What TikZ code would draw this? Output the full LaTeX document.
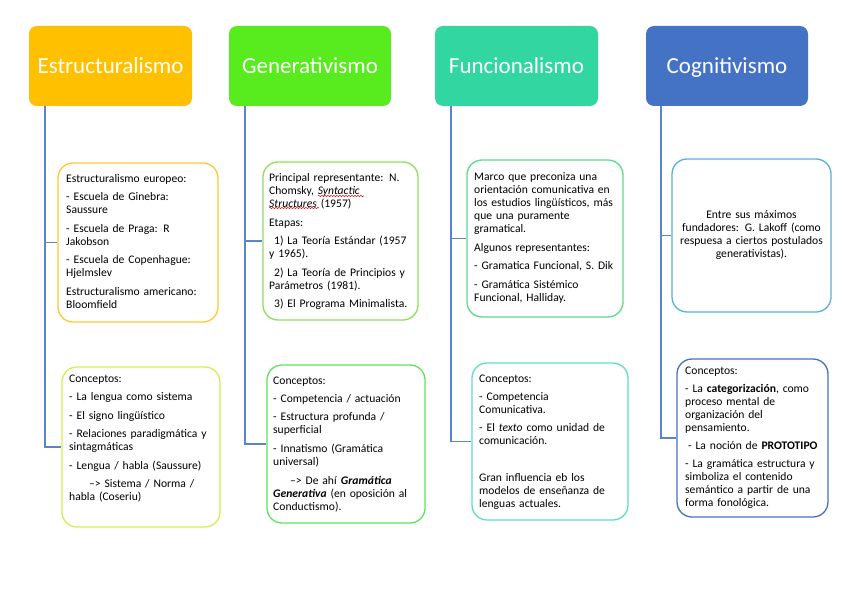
\documentclass[tikz,border=0pt]{standalone}
\usepackage{fontspec}
\setmainfont{Carlito}
\usetikzlibrary{calc,decorations.pathmorphing}
\definecolor{cEst}{HTML}{FFC000}
\definecolor{cGen}{HTML}{58EB1E}
\definecolor{cFun}{HTML}{31D6A1}
\definecolor{cCog}{HTML}{4472C4}
\definecolor{cLine}{HTML}{5B84D0}
\definecolor{bEstA}{HTML}{FFC832}
\definecolor{bEstB}{HTML}{D8EE4C}
\definecolor{bGenA}{HTML}{8EE05A}
\definecolor{bGenB}{HTML}{60E360}
\definecolor{bFunA}{HTML}{5ADC8A}
\definecolor{bFunB}{HTML}{5EDFC2}
\definecolor{bCogA}{HTML}{55B2E0}
\definecolor{bCogB}{HTML}{4472C4}
\begin{document}
\begin{tikzpicture}[x=1pt,y=-1pt,
  head/.style={rectangle, rounded corners=8pt, draw=white!70!black, draw opacity=0.2, minimum width=163pt, minimum height=80pt, text=white, font=\fontsize{23}{26}\selectfont, inner sep=0pt, text height=18pt, text depth=3pt},
  box/.style={rectangle, rounded corners=15pt, line width=1.3pt, fill=white},
  conn/.style={draw=cLine, line width=1.4pt},
  wave/.style={draw=red!85!black, line width=0.5pt, decorate, decoration={snake, amplitude=0.6pt, segment length=3pt}},
  txt/.style={anchor=base west, text width=175pt, align=left, inner sep=0pt, font=\fontsize{11.6}{13}\selectfont},
  ctxt/.style={anchor=base, text width=159pt, align=center, inner sep=0pt, font=\fontsize{11.6}{13}\selectfont}
]
\useasboundingbox (0,0) rectangle (848,599);

% headers
\node[head, fill=cEst] (h1) at (110.5,66) {Estructuralismo};
\node[head, fill=cGen, minimum width=162pt] (h2) at (310,66) {Generativismo};
\node[head, fill=cFun] (h3) at (516.5,66) {Funcionalismo};
\node[head, fill=cCog, minimum width=162pt] (h4) at (727,66) {Cognitivismo};

% boxes
\node[box, draw=bEstA, minimum width=160pt, minimum height=159pt] (b11) at (138,242.5) {};
\node[box, draw=bEstB, minimum width=158pt, minimum height=160pt] (b12) at (141,447) {};
\node[box, draw=bGenA, minimum width=155pt, minimum height=158pt] (b21) at (340.5,241) {};
\node[box, draw=bGenB, minimum width=158pt, minimum height=158pt] (b22) at (346,444) {};
\node[box, draw=bFunA, minimum width=156pt, minimum height=157pt] (b31) at (545,238.5) {};
\node[box, draw=bFunB, minimum width=156pt, minimum height=157pt] (b32) at (550,441.5) {};
\node[box, draw=bCogA, minimum width=159pt, minimum height=153pt] (b41) at (751.5,235.5) {};
\node[box, draw=bCogB, minimum width=151pt, minimum height=158pt] (b42) at (752.5,438) {};

% connectors
\coordinate (v1) at ($(h1.south west)+(16,0)$);
\coordinate (v2) at ($(h2.south west)+(16,0)$);
\coordinate (v3) at ($(h3.south west)+(16,0)$);
\coordinate (v4) at ($(h4.south west)+(15,0)$);
\draw[conn] (v1) |- (b11.west);
\draw[conn] (v1) |- (b12.west);
\draw[conn] (v2) |- (b21.west);
\draw[conn] (v2) |- (b22.west);
\draw[conn] (v3) |- (b31.west);
\draw[conn] (v3) |- (b32.west);
\draw[conn] (v4) |- (b41.west);
\draw[conn] (v4) |- (b42.west);

% texts
\node[txt] (t11) at (66,182) {Estructuralismo europeo:\\[5.5pt]
- Escuela de Ginebra:\\ Saussure\\[5.5pt]
- Escuela de Praga: R\\ Jakobson\\[5.5pt]
- Escuela de Copenhague:\\ Hjelmslev\\[5.5pt]
Estructuralismo americano:\\ Bloomfield};

\node[txt] (t12) at (69,382) {Conceptos:\\[5.5pt]
- La lengua como sistema\\[5.5pt]
- El signo lingüístico\\[5.5pt]
- Relaciones paradigmática y\\ sintagmáticas\\[5.5pt]
- Lengua / habla (Saussure)\\[5.5pt]
\hspace*{20pt}\textendash> Sistema / Norma /\\ habla (Coseriu)};

\node[txt] (t21) at (269,181.5) {Principal representante: N.\\
Chomsky, \textit{Syntactic}\\ \textit{Structures} (1957)\\[5.5pt]
Etapas:\\[5.5pt]
\hspace*{5pt}1) La Teoría Estándar (1957\\ y 1965).\\[5.5pt]
\hspace*{5pt}2) La Teoría de Principios y\\ Parámetros (1981).\\[5.5pt]
\hspace*{5pt}3) El Programa Minimalista.};

\node[txt] (t22) at (273,384) {Conceptos:\\[5pt]
- Competencia / actuación\\[5.5pt]
- Estructura profunda /\\ superficial\\[5.5pt]
- Innatismo (Gramática\\ universal)\\[6pt]
\hspace*{17pt}\textendash> De ahí \textbf{\textit{Gramática}}\\ \textbf{\textit{Generativa}} (en oposición al\\ Conductismo).};

\node[txt] (t31) at (474,180.5) {Marco que preconiza una\\ orientación comunicativa en\\ los estudios lingüísticos, más\\ que una puramente\\ gramatical.\\[5.5pt]
Algunos representantes:\\[5.5pt]
- Gramatica Funcional, S. Dik\\[5.5pt]
- Gramática Sistémico\\ Funcional, Halliday.};

\node[txt] (t32) at (479,382) {Conceptos:\\[5pt]
- Competencia\\ Comunicativa.\\[5.5pt]
- El \textit{texto} como unidad de\\ comunicación.\\[24pt]
Gran influencia eb los\\ modelos de enseñanza de\\ lenguas actuales.};

\node[ctxt] (t41) at (751.5,218) {Entre sus máximos\\ fundadores: G. Lakoff (como\\ respuesa a ciertos postulados\\ generativistas).};

\node[txt] (t42) at (685,374) {Conceptos:\\[5pt]
- La \textbf{categorización}, como\\ proceso mental de\\ organización del\\ pensamiento.\\[5pt]
\hspace*{3pt}- La noción de \textbf{PROTOTIPO}\\[5.5pt]
- La gramática estructura y\\ simboliza el contenido\\ semántico a partir de una\\ forma fonológica.};

% spell-check underlines
\draw[wave] (318,196) -- (364,196);
\draw[wave] (269,208) -- (319,208);
\end{tikzpicture}
\end{document}
